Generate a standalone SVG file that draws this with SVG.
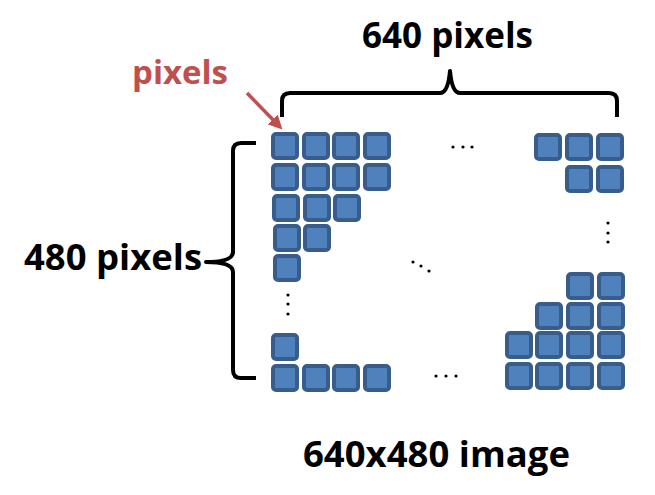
<svg xmlns="http://www.w3.org/2000/svg" width="655" height="495" viewBox="0 0 655 495">
<defs>
<style>
.px{fill:#4F81BD;stroke:#385D8A;stroke-width:4}
.lbl{font-family:"Open Sans","Noto Sans","Liberation Sans",sans-serif;font-weight:bold;fill:#000}
.red{font-family:"Open Sans","Noto Sans","Liberation Sans",sans-serif;font-weight:bold;fill:#C0504D}
.brace{fill:none;stroke:#000;stroke-width:4;stroke-linejoin:round;stroke-linecap:butt}
.dot{fill:#000}
</style>
<rect id="sq" x="0" y="0" width="24" height="24" rx="3" ry="3" class="px"/>
<marker id="ah" markerWidth="4" markerHeight="4" refX="3" refY="2" orient="auto" markerUnits="strokeWidth">
<path d="M0,0 L4,2 L0,4 Z" fill="#C0504D"/>
</marker>
</defs>
<rect width="655" height="495" fill="#fff"/>

<g id="pixels-left">
<use href="#sq" x="273" y="134"/><use href="#sq" x="304" y="134"/><use href="#sq" x="334" y="134"/><use href="#sq" x="365" y="134"/>
<use href="#sq" x="273" y="165"/><use href="#sq" x="304" y="165"/><use href="#sq" x="334" y="165"/><use href="#sq" x="365" y="165"/>
<use href="#sq" x="274" y="196"/><use href="#sq" x="305" y="196"/><use href="#sq" x="335" y="196"/>
<use href="#sq" x="275" y="226"/><use href="#sq" x="305" y="226"/>
<use href="#sq" x="275" y="256"/>
<use href="#sq" x="273" y="335"/>
<use href="#sq" x="273" y="366"/><use href="#sq" x="304" y="366"/><use href="#sq" x="334" y="366"/><use href="#sq" x="365" y="366"/>
</g>

<g id="pixels-right">
<use href="#sq" x="536" y="135"/><use href="#sq" x="567" y="135"/><use href="#sq" x="598" y="135"/>
<use href="#sq" x="567" y="167"/><use href="#sq" x="598" y="167"/>
<use href="#sq" x="568" y="274"/><use href="#sq" x="599" y="274"/>
<use href="#sq" x="537" y="304"/><use href="#sq" x="568" y="304"/><use href="#sq" x="599" y="304"/>
<use href="#sq" x="507" y="333"/><use href="#sq" x="537" y="333"/><use href="#sq" x="568" y="333"/><use href="#sq" x="599" y="333"/>
<use href="#sq" x="507" y="364"/><use href="#sq" x="537" y="364"/><use href="#sq" x="568" y="364"/><use href="#sq" x="599" y="364"/>
</g>

<g id="ellipses">
<circle class="dot" cx="453" cy="147" r="1.6"/><circle class="dot" cx="463" cy="147" r="1.6"/><circle class="dot" cx="472" cy="147" r="1.6"/>
<circle class="dot" cx="608" cy="223" r="1.6"/><circle class="dot" cx="608" cy="233" r="1.6"/><circle class="dot" cx="608" cy="242" r="1.6"/>
<circle class="dot" cx="288" cy="295" r="1.6"/><circle class="dot" cx="288" cy="304" r="1.6"/><circle class="dot" cx="288" cy="314" r="1.6"/>
<circle class="dot" cx="413" cy="262" r="1.6"/><circle class="dot" cx="421" cy="266" r="1.6"/><circle class="dot" cx="429" cy="271" r="1.6"/>
<circle class="dot" cx="436" cy="376" r="1.6"/><circle class="dot" cx="446" cy="376" r="1.6"/><circle class="dot" cx="456" cy="376" r="1.6"/>
</g>

<g id="connectors">
<path class="brace" d="M282,117 L282,101 Q282,93 290,93 L440,93 Q448,93 450,71 Q452,93 460,93 L609,93 Q617,93 617,101 L617,117"/>
<path class="brace" d="M256,143 L241,143 Q233,143 233,151 L233,252 Q233,262 206,262 Q233,262 233,272 L233,370 Q233,378 241,378 L256,378"/>
<line x1="247" y1="93" x2="280" y2="127" stroke="#C0504D" stroke-width="3.5" marker-end="url(#ah)"/>
</g>

<g id="labels">
<text class="lbl" x="362" y="48" font-size="36" textLength="171" lengthAdjust="spacingAndGlyphs">640 pixels</text>
<text class="red" x="132" y="84" font-size="33" textLength="96" lengthAdjust="spacingAndGlyphs">pixels</text>
<text class="lbl" x="24" y="270" font-size="36" textLength="178" lengthAdjust="spacingAndGlyphs">480 pixels</text>
<text class="lbl" x="303" y="467" font-size="36" textLength="267" lengthAdjust="spacingAndGlyphs">640x480 image</text>
</g>
</svg>
